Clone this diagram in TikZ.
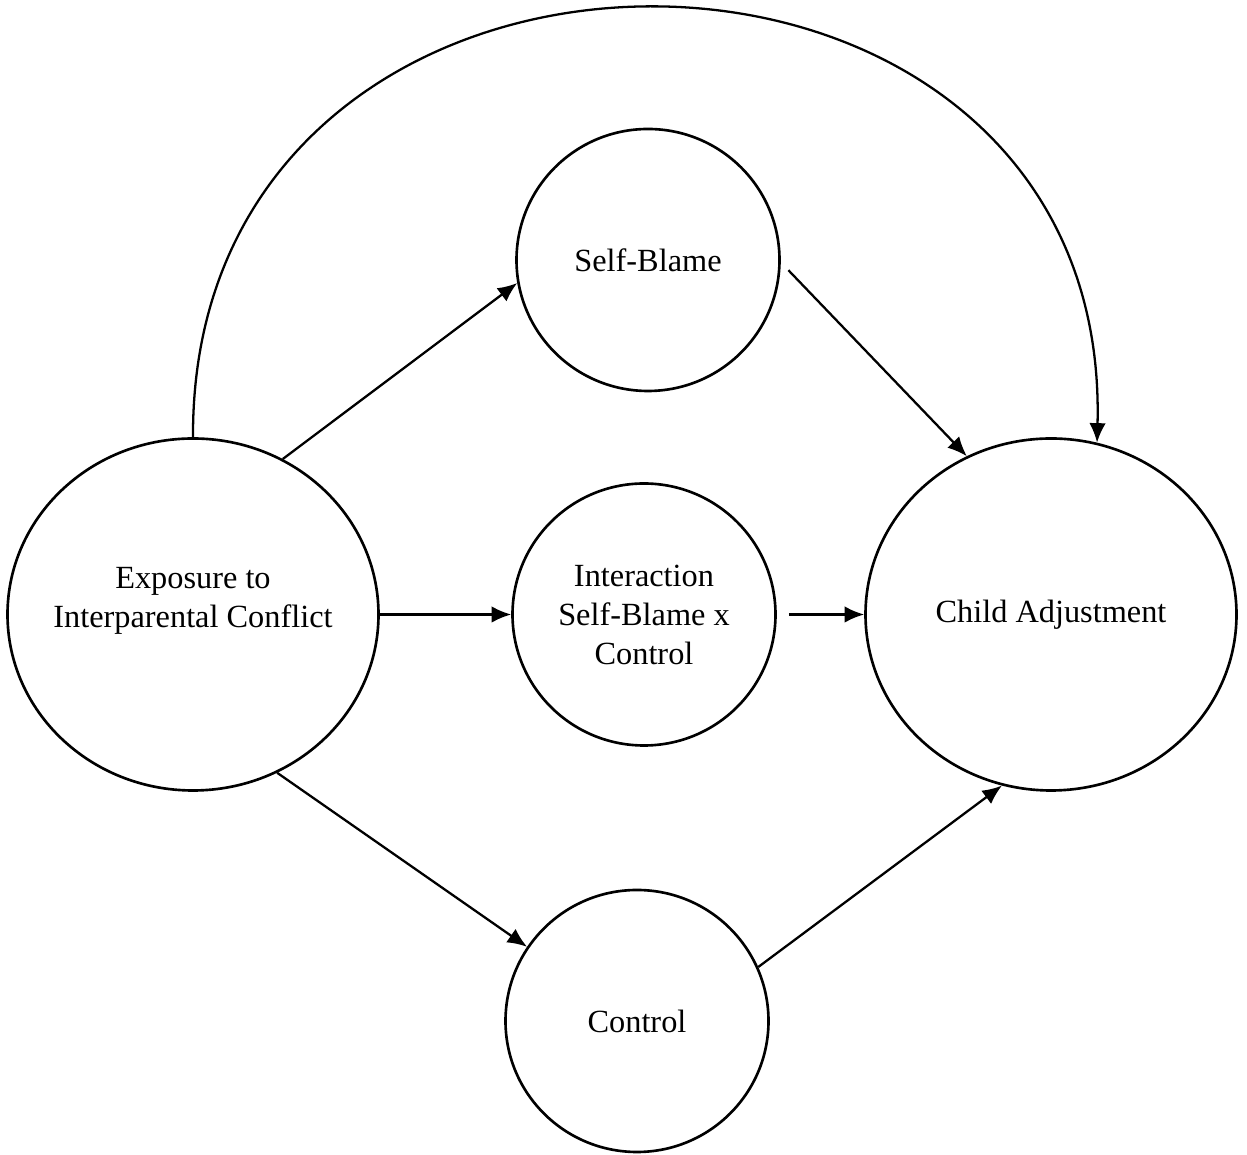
\documentclass[tikz,border=0pt]{standalone}
\usepackage{fontspec}
\setmainfont{Liberation Serif}
\usetikzlibrary{arrows.meta, shapes.geometric}

\begin{document}
\begin{tikzpicture}[
  var/.style={draw, ellipse, line width=1.5pt, inner sep=-0.5cm, align=center,
              font=\fontsize{18.4}{22.2}\selectfont},
  endvar/.style={var, minimum width=7.42cm, minimum height=7.04cm},
  midvar/.style={var, minimum width=5.26cm, minimum height=5.24cm},
  ar/.style={-{Latex[length=3.9mm, width=3.3mm]}, line width=1.3pt}
]
\useasboundingbox (0,0) rectangle (24.94,23.1);

% extra depth lifts the two lines a little above the centre, as printed
\node[endvar, text depth=0.7cm] (expo) at (3.86,10.81) {Exposure to\\Interparental Conflict};
\node[midvar] (selfb) at (12.96,17.9) {Self-Blame};
\node[midvar] (inter) at (12.88,10.81) {Interaction\\Self-Blame x\\Control};
\node[midvar] (ctrl) at (12.74,2.68) {Control};
\node[endvar] (child) at (21.02,10.81) {Child Adjustment};

\draw[ar] (expo.60) -- (selfb.190);
\draw[ar] (expo.east) -- (inter.west);
\draw[ar] (expo.-62) -- (ctrl.146);
\draw[ar, shorten <=0.22cm] (selfb.-1) -- (child.118);
\draw[ar, shorten <=0.24cm] (inter.east) -- (child.west);
\draw[ar] (ctrl.24) -- (child.254);
% direct path over the top of the whole model
\draw[ar] (expo.north) .. controls +(-0.05,11.5) and +(0.3,11.5) .. (child.75);
\end{tikzpicture}
\end{document}
